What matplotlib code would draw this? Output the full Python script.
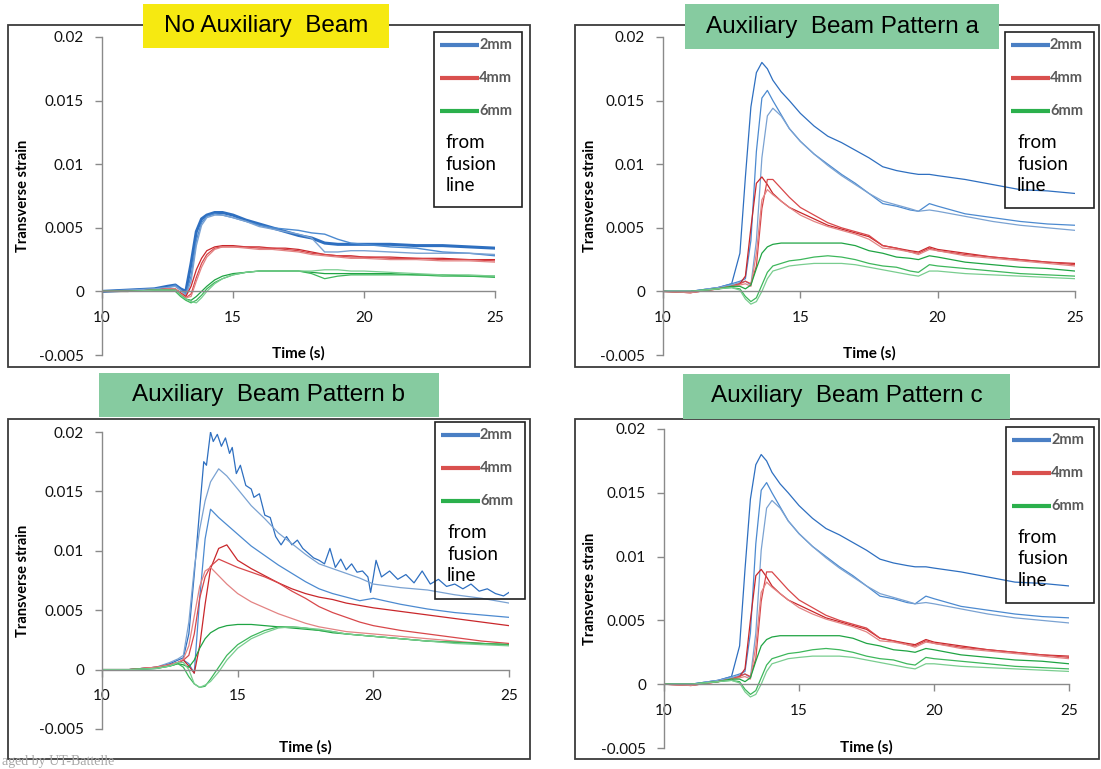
import matplotlib
matplotlib.use("Agg")
import matplotlib.pyplot as plt
from matplotlib.patches import Rectangle
from matplotlib.lines import Line2D

# ---- data (strain vs time, 3 gauges per distance) ----
t_none = [10, 11, 12, 12.5, 12.8, 13.0, 13.2, 13.4, 13.6, 13.8, 14.0, 14.3, 14.6, 15, 15.5,
          16, 16.5, 17, 17.5, 18, 18.5, 19, 19.5, 20, 21, 22, 23, 24, 25]
none_2mm = [
    [0, 0.0001, 0.0002, 0.0004, 0.0005, 0.0002, 0.0, 0.0022, 0.0047, 0.0057, 0.0060, 0.0062, 0.0062, 0.0060, 0.0056,
     0.0053, 0.0050, 0.0047, 0.0044, 0.0042, 0.0038, 0.0037, 0.0037, 0.0037, 0.0037, 0.0036, 0.0036, 0.0035, 0.0034],
    [0, 0.0001, 0.0002, 0.0003, 0.0005, 0.0001, -0.0002, 0.0012, 0.0040, 0.0054, 0.0059, 0.0061, 0.0060, 0.0058, 0.0055,
     0.0052, 0.0050, 0.0049, 0.0048, 0.0046, 0.0045, 0.0041, 0.0038, 0.0037, 0.0035, 0.0034, 0.0031, 0.0030, 0.0028],
    [0, 0.0001, 0.0002, 0.0003, 0.0004, 0.0001, -0.0003, 0.0008, 0.0036, 0.0052, 0.0058, 0.0060, 0.0060, 0.0058, 0.0055,
     0.0051, 0.0049, 0.0047, 0.0045, 0.0042, 0.0031, 0.0031, 0.0032, 0.0032, 0.0031, 0.0030, 0.0030, 0.0030, 0.0029],
]
none_4mm = [
    [0, 0, 0.0001, 0.0002, 0.0002, -0.0001, -0.0004, 0.0004, 0.0017, 0.0026, 0.0032, 0.0035, 0.0036, 0.0036, 0.0035,
     0.0035, 0.0034, 0.0034, 0.0033, 0.0031, 0.0029, 0.0028, 0.0028, 0.0027, 0.0027, 0.0026, 0.0026, 0.0025, 0.0025],
    [0, 0, 0.0001, 0.0002, 0.0001, -0.0002, -0.0005, -0.0002, 0.0011, 0.0022, 0.0029, 0.0034, 0.0035, 0.0035, 0.0035,
     0.0034, 0.0034, 0.0033, 0.0032, 0.0030, 0.0029, 0.0028, 0.0027, 0.0027, 0.0026, 0.0026, 0.0025, 0.0025, 0.0024],
    [0, 0, 0.0001, 0.0002, 0.0002, -0.0002, -0.0005, -0.0004, 0.0008, 0.0019, 0.0027, 0.0033, 0.0035, 0.0035, 0.0034,
     0.0033, 0.0033, 0.0032, 0.0031, 0.0029, 0.0028, 0.0027, 0.0026, 0.0026, 0.0025, 0.0025, 0.0024, 0.0024, 0.0023],
]
none_6mm = [
    [0, 0, 0.0001, 0.0001, 0.0001, -0.0003, -0.0006, -0.0007, -0.0004, 0.0000, 0.0004, 0.0009, 0.0012, 0.0014, 0.0015,
     0.0016, 0.0016, 0.0016, 0.0016, 0.0015, 0.0014, 0.0014, 0.0014, 0.0014, 0.0014, 0.0013, 0.0013, 0.0012, 0.0012],
    [0, 0, 0.0001, 0.0001, 0.0000, -0.0004, -0.0007, -0.0009, -0.0007, -0.0003, 0.0002, 0.0007, 0.0010, 0.0013, 0.0015,
     0.0016, 0.0016, 0.0016, 0.0016, 0.0014, 0.0010, 0.0012, 0.0013, 0.0013, 0.0013, 0.0013, 0.0012, 0.0012, 0.0011],
    [0, 0, 0.0001, 0.0001, 0.0001, -0.0003, -0.0006, -0.0008, -0.0009, -0.0005, 0.0000, 0.0006, 0.0010, 0.0013, 0.0015,
     0.0016, 0.0016, 0.0016, 0.0016, 0.0016, 0.0017, 0.0017, 0.0016, 0.0016, 0.0015, 0.0014, 0.0013, 0.0013, 0.0012],
]

t_a = [10, 11, 12, 12.5, 12.8, 13.0, 13.2, 13.4, 13.6, 13.8, 14.0, 14.3, 14.6, 15, 15.5,
       16, 16.5, 17, 17.5, 18, 18.5, 19, 19.3, 19.7, 20, 21, 22, 23, 24, 25]
a_2mm = [
    [0, 0, 0.0003, 0.0006, 0.0030, 0.0090, 0.0145, 0.0172, 0.0180, 0.0175, 0.0166, 0.0157, 0.0150, 0.0140, 0.0130,
     0.0122, 0.0117, 0.0111, 0.0105, 0.0098, 0.0095, 0.0093, 0.0092, 0.0092, 0.0091, 0.0088, 0.0084, 0.0080, 0.0079, 0.0077],
    [0, 0, 0.0003, 0.0006, 0.0008, 0.0010, 0.0040, 0.0110, 0.0152, 0.0158, 0.0150, 0.0139, 0.0128, 0.0118, 0.0108,
     0.0100, 0.0092, 0.0085, 0.0077, 0.0069, 0.0067, 0.0064, 0.0063, 0.0069, 0.0067, 0.0061, 0.0058, 0.0055, 0.0053, 0.0052],
    [0, 0, 0.0003, 0.0005, 0.0007, 0.0008, 0.0005, 0.0040, 0.0105, 0.0138, 0.0144, 0.0138, 0.0128, 0.0118, 0.0108,
     0.0099, 0.0091, 0.0084, 0.0077, 0.0071, 0.0068, 0.0065, 0.0063, 0.0064, 0.0063, 0.0059, 0.0055, 0.0052, 0.0050, 0.0048],
]
a_4mm = [
    [0, -0.0001, 0.0002, 0.0004, 0.0006, 0.0012, 0.0050, 0.0085, 0.0090, 0.0084, 0.0077, 0.0071, 0.0066, 0.0062, 0.0057,
     0.0052, 0.0049, 0.0046, 0.0043, 0.0036, 0.0034, 0.0032, 0.0031, 0.0035, 0.0033, 0.0030, 0.0027, 0.0025, 0.0023, 0.0022],
    [0, -0.0001, 0.0002, 0.0004, 0.0006, 0.0008, 0.0006, 0.0020, 0.0065, 0.0088, 0.0088, 0.0081, 0.0074, 0.0066, 0.0060,
     0.0054, 0.0050, 0.0047, 0.0044, 0.0036, 0.0034, 0.0031, 0.0030, 0.0034, 0.0032, 0.0029, 0.0027, 0.0025, 0.0023, 0.0021],
    [0, -0.0001, 0.0002, 0.0004, 0.0005, 0.0006, 0.0004, 0.0030, 0.0072, 0.0080, 0.0076, 0.0071, 0.0066, 0.0060, 0.0055,
     0.0051, 0.0048, 0.0045, 0.0041, 0.0034, 0.0033, 0.0031, 0.0029, 0.0033, 0.0032, 0.0028, 0.0026, 0.0024, 0.0022, 0.0020],
]
a_6mm = [
    [0, 0, 0.0002, 0.0004, 0.0004, 0.0002, 0.0005, 0.0018, 0.0030, 0.0035, 0.0037, 0.0038, 0.0038, 0.0038, 0.0038,
     0.0038, 0.0038, 0.0036, 0.0032, 0.0030, 0.0027, 0.0026, 0.0025, 0.0028, 0.0027, 0.0023, 0.0021, 0.0019, 0.0018, 0.0016],
    [0, 0, 0.0002, 0.0003, 0.0002, -0.0004, -0.0008, -0.0005, 0.0005, 0.0015, 0.0020, 0.0022, 0.0024, 0.0025, 0.0027,
     0.0028, 0.0027, 0.0025, 0.0022, 0.0020, 0.0019, 0.0016, 0.0015, 0.0021, 0.0020, 0.0018, 0.0016, 0.0014, 0.0013, 0.0012],
    [0, 0, 0.0002, 0.0003, 0.0001, -0.0006, -0.0010, -0.0008, 0.0000, 0.0010, 0.0016, 0.0018, 0.0020, 0.0021, 0.0022,
     0.0022, 0.0022, 0.0021, 0.0019, 0.0017, 0.0015, 0.0013, 0.0012, 0.0016, 0.0016, 0.0014, 0.0013, 0.0012, 0.0011, 0.0010],
]

t_b = [10, 11, 12, 12.5, 12.8, 13.0, 13.2, 13.4, 13.6, 13.8, 14.0, 14.3, 14.6, 15, 15.5,
       16, 16.5, 17, 17.5, 18, 18.5, 19, 19.5, 20, 21, 22, 23, 24, 25]
t_b_noisy = [10, 11, 12, 12.5, 12.8, 13.0, 13.2, 13.4, 13.6, 13.75, 13.85, 14.0, 14.1, 14.25, 14.4, 14.55,
             14.7, 14.8, 14.95, 15.1, 15.3, 15.5, 15.6, 15.8, 16.0, 16.2, 16.4, 16.6, 16.8, 17.0, 17.2,
             17.4, 17.6, 17.8, 18.0, 18.2, 18.4, 18.6, 18.8, 19.0, 19.2, 19.4, 19.6, 19.8, 19.9, 20.0,
             20.1, 20.3, 20.6, 20.9, 21.2, 21.5, 21.8, 22.1, 22.4, 22.7, 23.0, 23.3, 23.6, 23.9, 24.2,
             24.5, 24.8, 25]
b_2mm_noisy = [0, 0, 0.0002, 0.0005, 0.0008, 0.0010, 0.0030, 0.0080, 0.0135, 0.0175, 0.0172, 0.0200, 0.0192,
               0.0198, 0.0188, 0.0195, 0.0182, 0.0187, 0.0165, 0.0172, 0.0155, 0.0152, 0.0145, 0.0148, 0.0130,
               0.0128, 0.0112, 0.0105, 0.0112, 0.0105, 0.0109, 0.0102, 0.0098, 0.0094, 0.0092, 0.0089, 0.0102,
               0.0086, 0.0093, 0.0084, 0.0089, 0.0082, 0.0083, 0.0078, 0.0065, 0.0078, 0.0092, 0.0078, 0.0083,
               0.0076, 0.0080, 0.0073, 0.0083, 0.0072, 0.0076, 0.0070, 0.0072, 0.0068, 0.0072, 0.0066, 0.0068,
               0.0064, 0.0062, 0.0065]
b_2mm = [
    [0, 0, 0.0002, 0.0006, 0.0009, 0.0012, 0.0040, 0.0085, 0.0118, 0.0142, 0.0158, 0.0169, 0.0163, 0.0152, 0.0138,
     0.0127, 0.0115, 0.0106, 0.0097, 0.0089, 0.0085, 0.0081, 0.0077, 0.0072, 0.0069, 0.0067, 0.0063, 0.0060, 0.0056],
    [0, 0, 0.0001, 0.0004, 0.0006, 0.0008, 0.0005, -0.0003, 0.0060, 0.0110, 0.0135, 0.0128, 0.0122, 0.0114, 0.0104,
     0.0096, 0.0088, 0.0081, 0.0074, 0.0068, 0.0064, 0.0061, 0.0058, 0.0060, 0.0055, 0.0051, 0.0048, 0.0046, 0.0044],
]
b_4mm = [
    [0, 0, 0.0002, 0.0004, 0.0006, 0.0008, 0.0003, -0.0003, 0.0020, 0.0055, 0.0085, 0.0102, 0.0105, 0.0092, 0.0085,
     0.0079, 0.0073, 0.0068, 0.0064, 0.0061, 0.0059, 0.0056, 0.0054, 0.0052, 0.0049, 0.0046, 0.0043, 0.0040, 0.0037],
    [0, 0, 0.0002, 0.0004, 0.0006, 0.0008, 0.0012, 0.0030, 0.0060, 0.0078, 0.0087, 0.0093, 0.0090, 0.0086, 0.0082,
     0.0078, 0.0073, 0.0066, 0.0060, 0.0053, 0.0048, 0.0044, 0.0040, 0.0037, 0.0033, 0.0030, 0.0027, 0.0024, 0.0022],
    [0, 0, 0.0002, 0.0004, 0.0006, 0.0009, 0.0020, 0.0045, 0.0070, 0.0083, 0.0086, 0.0079, 0.0072, 0.0064, 0.0057,
     0.0052, 0.0047, 0.0043, 0.0039, 0.0036, 0.0034, 0.0032, 0.0031, 0.0030, 0.0028, 0.0026, 0.0024, 0.0022, 0.0021],
]
b_6mm = [
    [0, 0, 0.0001, 0.0003, 0.0005, 0.0004, 0.0002, 0.0008, 0.0018, 0.0026, 0.0031, 0.0035, 0.0037, 0.0038, 0.0038,
     0.0037, 0.0036, 0.0035, 0.0034, 0.0033, 0.0031, 0.0030, 0.0029, 0.0028, 0.0026, 0.0024, 0.0023, 0.0022, 0.0021],
    [0, 0, 0.0001, 0.0003, 0.0005, 0.0002, -0.0006, -0.0012, -0.0015, -0.0014, -0.0008, 0.0002, 0.0012, 0.0021, 0.0028,
     0.0033, 0.0036, 0.0036, 0.0035, 0.0033, 0.0032, 0.0030, 0.0029, 0.0028, 0.0026, 0.0024, 0.0023, 0.0022, 0.0021],
    [0, 0, 0.0001, 0.0003, 0.0006, 0.0006, 0.0000, -0.0012, -0.0015, -0.0013, -0.0010, -0.0002, 0.0008, 0.0018, 0.0026,
     0.0031, 0.0035, 0.0036, 0.0035, 0.0034, 0.0032, 0.0030, 0.0029, 0.0028, 0.0026, 0.0024, 0.0022, 0.0021, 0.0020],
]

# pattern c shows the same traces as pattern a
t_c = t_a
c_2mm = a_2mm
c_4mm = a_4mm
c_6mm = a_6mm

legend_labels = ["2mm", "4mm", "6mm"]
y_ticks = [-0.005, 0, 0.005, 0.01, 0.015, 0.02]
y_ticklabels = ["-0.005", "0", "0.005", "0.01", "0.015", "0.02"]
x_ticks = [10, 15, 20, 25]

# ---- styling ----
BLUES = ["#2e6fc0", "#4c8ad0", "#7aa2d2"]
REDS = ["#c9272b", "#d8474a", "#e38383"]
GREENS = ["#1fa443", "#3db75b", "#79cd8f"]
LEG_COLORS = ["#4a7fc4", "#d9504e", "#2bb04c"]
YELLOW = "#f6e911"
GREEN_BOX = "#86cba0"

W, H = 1101, 769
plt.rcParams["font.family"] = ["Lato", "DejaVu Sans"]
fig = plt.figure(figsize=(W / 100, H / 100), dpi=100)
fig.patch.set_facecolor("white")


def fig_rect(x0, y0, x1, y1, **kw):
    r = Rectangle((x0 / W, 1 - y1 / H), (x1 - x0) / W, (y1 - y0) / H,
                  transform=fig.transFigure, **kw)
    fig.add_artist(r)


def draw_panel(title, title_bg, frame, tbox, lbox, axpx, ylab_x, xlab_y, traces):
    fig_rect(*frame, fill=False, ec="#3c3c3c", lw=1.3, zorder=1)

    ax_x0, ax_x1, ax_y0, ax_y1 = axpx
    ax = fig.add_axes([ax_x0 / W, 1 - ax_y1 / H, (ax_x1 - ax_x0) / W, (ax_y1 - ax_y0) / H])
    ax.set_facecolor("none")
    for t, series, colors, widths in traces:
        for y, c, w in zip(series, colors, widths):
            ax.plot(t, y, color=c, lw=w)
    ax.set_xlim(10, 25)
    ax.set_ylim(-0.005, 0.02)
    for s in ["top", "right"]:
        ax.spines[s].set_visible(False)
    ax.spines["bottom"].set_position(("data", 0))
    for s in ["left", "bottom"]:
        ax.spines[s].set_color("#8a8a8a")
        ax.spines[s].set_linewidth(1.0)
    ax.set_xticks(x_ticks)
    ax.set_xticklabels([str(v) for v in x_ticks])
    ax.set_yticks(y_ticks)
    ax.set_yticklabels(y_ticklabels)
    ax.tick_params(axis="y", direction="out", length=5, width=1, color="#8a8a8a",
                   pad=8, labelsize=11, labelcolor="#111111")
    ax.tick_params(axis="x", direction="out", length=5, width=1, color="#8a8a8a",
                   pad=9, labelsize=11, labelcolor="#111111")

    w = ax_x1 - ax_x0
    h = ax_y1 - ax_y0
    ax.text((ylab_x - ax_x0) / w, 0.5, "Transverse strain", transform=ax.transAxes,
            rotation=90, ha="center", va="center", fontsize=10.5, fontweight="bold")
    ax.text(0.5, (ax_y1 - xlab_y) / h, "Time (s)", transform=ax.transAxes,
            ha="center", va="center", fontsize=11, fontweight="bold")

    # title box on top of the frame
    fig_rect(*tbox, fc=title_bg, ec="none", zorder=5)
    fig.text((tbox[0] + tbox[2]) / 2 / W, 1 - (tbox[1] + tbox[3]) / 2 / H, title,
             ha="center", va="center", fontsize=17.5, family="Liberation Sans", zorder=6)

    # legend box (no fill, traces show through)
    lx0, ly0, lx1, ly1 = lbox
    fig_rect(*lbox, fill=False, ec="#202020", lw=1.2, zorder=5)
    for i, (lab, col) in enumerate(zip(legend_labels, LEG_COLORS)):
        yy = 1 - (ly0 + 13 + 33 * i) / H
        fig.add_artist(Line2D([(lx0 + 6) / W, (lx0 + 45) / W], [yy, yy], transform=fig.transFigure,
                              color=col, lw=3, solid_capstyle="butt", zorder=6))
        fig.text((lx0 + 45) / W, yy, lab, ha="left", va="center", fontsize=10.5,
                 fontweight="bold", color="#5a5a5a", zorder=6)
    fig.text((lx0 + 12) / W, 1 - (ly0 + 132) / H, "from\nfusion\nline", ha="left", va="center",
             fontsize=13.5, linespacing=1.3, zorder=6)


lw_thin = [0.9, 0.9, 0.9]

draw_panel("No Auxiliary  Beam", YELLOW,
           (8, 25, 530, 367), (143, 4, 389, 48), (434, 32, 522, 207),
           (102, 495, 37, 355), 23, 353,
           [(t_none, none_2mm, BLUES, [2.2, 1.0, 1.0]),
            (t_none, none_4mm, REDS, lw_thin),
            (t_none, none_6mm, GREENS, lw_thin)])

draw_panel("Auxiliary  Beam Pattern a", GREEN_BOX,
           (575, 25, 1099, 367), (685, 4, 999, 49), (1005, 32, 1094, 208),
           (663, 1075, 37, 355), 590, 353,
           [(t_a, a_2mm, BLUES, lw_thin),
            (t_a, a_4mm, REDS, lw_thin),
            (t_a, a_6mm, GREENS, lw_thin)])

draw_panel("Auxiliary  Beam Pattern b", GREEN_BOX,
           (8, 419, 530, 759), (99, 373, 439, 417), (435, 422, 525, 599),
           (102, 509, 432, 729), 23, 747,
           [(t_b_noisy, [b_2mm_noisy], BLUES[:1], [0.9]),
            (t_b, b_2mm, BLUES[2:0:-1], [0.9, 0.9]),
            (t_b, b_4mm, REDS, lw_thin),
            (t_b, b_6mm, GREENS, lw_thin)])

draw_panel("Auxiliary  Beam Pattern c", GREEN_BOX,
           (575, 419, 1099, 759), (683, 374, 1010, 419), (1006, 427, 1094, 603),
           (664, 1069, 429, 748), 590, 747,
           [(t_c, c_2mm, BLUES, lw_thin),
            (t_c, c_4mm, REDS, lw_thin),
            (t_c, c_6mm, GREENS, lw_thin)])

fig.text(0.002, 1 - 768 / H, "aged by UT-Battelle", ha="left", va="bottom", fontsize=10,
         family="Liberation Serif", color="#a8a8a8")

fig.savefig("out.png", dpi=100)
